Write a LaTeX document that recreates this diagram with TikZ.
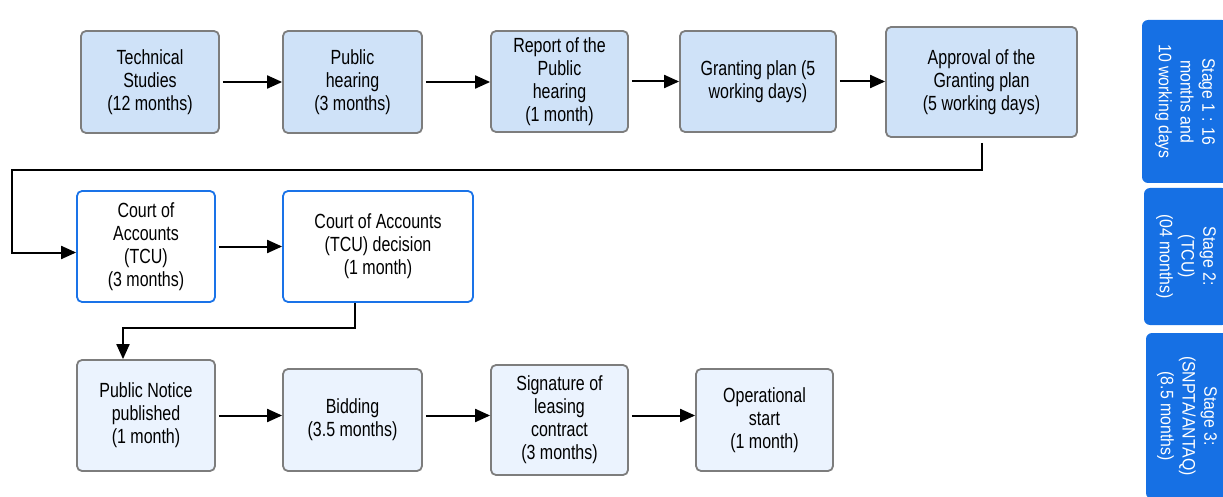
\documentclass[tikz,border=0pt]{standalone}
\usepackage{fontspec}
\setmainfont{Liberation Sans}[FakeStretch=0.78]
\newfontfamily\tabfont{Liberation Sans}[FakeStretch=0.88]
\usetikzlibrary{arrows.meta}
\definecolor{planfill}{RGB}{207,226,248}
\definecolor{bidfill}{RGB}{235,243,254}
\definecolor{boxgray}{RGB}{125,125,125}
\definecolor{tcublue}{RGB}{26,115,232}
\definecolor{tabblue}{RGB}{22,112,228}

\begin{document}
\begin{tikzpicture}[x=1pt,y=-1pt,>={Triangle[length=15pt,width=13pt]},
  font=\fontsize{20.5}{23}\selectfont,line cap=butt,
  basebox/.style={rectangle,rounded corners=5pt,line width=1.8pt,align=center,inner sep=0pt},
  planbox/.style={basebox,draw=boxgray,fill=planfill},
  tcubox/.style={basebox,draw=tcublue,fill=white},
  bidbox/.style={basebox,draw=boxgray,fill=bidfill},
  stagetab/.style={rectangle,rounded corners=6pt,fill=tabblue,text=white,align=center,rotate=-90,inner sep=0pt,font=\tabfont\fontsize{18}{21.7}\selectfont},
  flow/.style={->,line width=2pt,shorten <=3pt}]
\useasboundingbox (0,0) rectangle (1223,497);
\clip (0,0) rectangle (1223,497);
\node[planbox,minimum width=138pt,minimum height=102pt] (tech) at (150,82) {Technical\\Studies\\(12 months)};
\node[planbox,minimum width=139pt,minimum height=102pt] (hear) at (352.5,82) {Public\\hearing\\(3 months)};
\node[planbox,minimum width=137pt,minimum height=101pt] (rep) at (559.5,81.5) {Report of the\\Public\\hearing\\(1 month)};
\node[planbox,minimum width=156pt,minimum height=101pt] (gplan) at (758,81.5) {Granting plan (5\\working days)};
\node[planbox,minimum width=191pt,minimum height=110pt] (appr) at (981.5,82) {Approval of the\\Granting plan\\(5 working days)};
\node[tcubox,minimum width=138pt,minimum height=111pt] (tcu) at (146,246.5) {Court of\\Accounts\\(TCU)\\(3 months)};
\node[tcubox,minimum width=190pt,minimum height=111pt] (tcud) at (378,246.5) {Court of Accounts\\(TCU) decision\\(1 month)};
\node[bidbox,minimum width=138pt,minimum height=111pt] (pn) at (146,415.5) {Public Notice\\published\\(1 month)};
\node[bidbox,minimum width=139pt,minimum height=102pt] (bid) at (352.5,420) {Bidding\\(3.5 months)};
\node[bidbox,minimum width=137pt,minimum height=110pt] (sig) at (559.5,420) {Signature of\\leasing\\contract\\(3 months)};
\node[bidbox,minimum width=137pt,minimum height=102pt] (ops) at (764.5,420) {Operational\\start\\(1 month)};
\node[stagetab,minimum width=163pt,minimum height=86pt] (st1) at (1185,101.5) {Stage 1 : 16\\months and\\10 working days};
\node[stagetab,minimum width=137pt,minimum height=84pt] (st2) at (1186,256.5) {Stage 2:\\(TCU)\\(04 months)};
\node[stagetab,minimum width=166pt,minimum height=82pt] (st3) at (1187,416) {Stage 3:\\(SNPTA/ANTAQ)\\(8.5 months)};
\draw[flow] (tech.east) -- (tech.east -| hear.west);
\draw[flow] (hear.east) -- (hear.east -| rep.west);
\draw[flow] (rep.east) -- (rep.east -| gplan.west);
\draw[flow] (gplan.east) -- (gplan.east -| appr.west);
\coordinate (turnA) at (12,170);
\draw[flow,shorten <=5pt] (appr.south) |- (turnA) |- ([yshift=-6pt]tcu.west);
\draw[flow] (tcu.east) -- (tcu.east -| tcud.west);
\coordinate (turnB) at (123,328);
\draw[flow,shorten <=0pt] ([xshift=-23pt]tcud.south) |- (turnB) -- ([xshift=-23pt]pn.north);
\draw[flow] (pn.east) -- (pn.east -| bid.west);
\draw[flow] (bid.east |- pn.east) -- (sig.west |- pn.east);
\draw[flow] (sig.east |- pn.east) -- (ops.west |- pn.east);
\end{tikzpicture}
\end{document}
